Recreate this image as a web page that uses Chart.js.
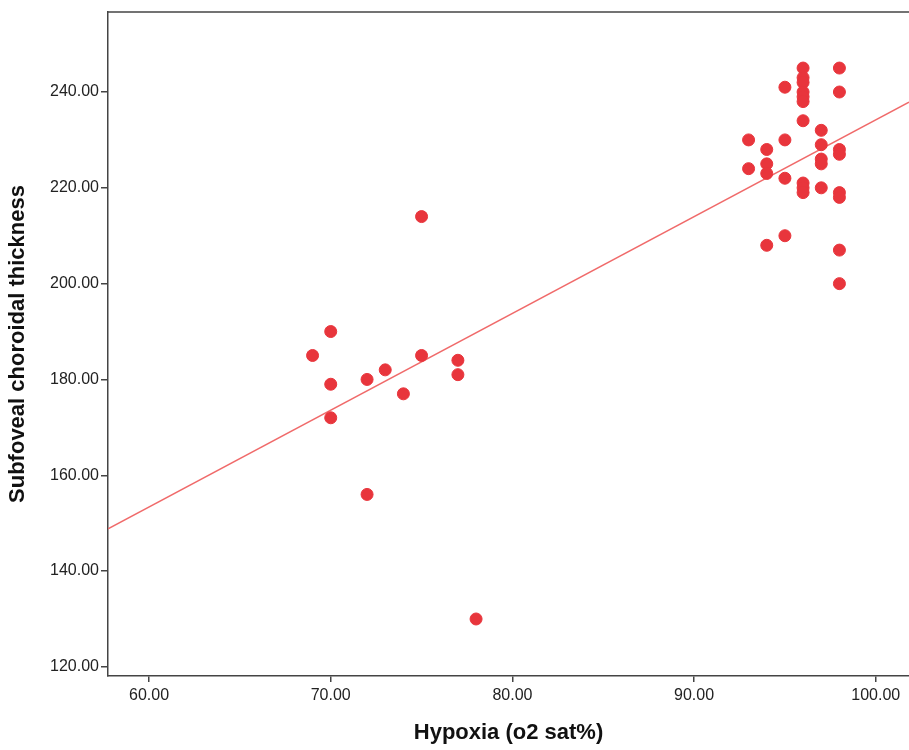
<!DOCTYPE html>
<html>
<head>
<meta charset="utf-8">
<script src="https://cdn.jsdelivr.net/npm/chart.js@4"></script>
<style>
  html, body { margin: 0; padding: 0; background: #fff; overflow: hidden; }
  #wrap { width: 909px; height: 750px; }
  canvas { display: block; }
</style>
</head>
<body>
<div id="wrap"><canvas id="scatter" width="909" height="750"></canvas></div>
<script>
// DATA

const hypoxia = [69, 70, 70, 70, 72, 72, 73, 74, 75, 75, 77, 77, 78,
    93, 93, 94, 94, 94, 94, 95, 95, 95, 95,
    96, 96, 96, 96, 96, 96, 96, 96, 96, 96,
    97, 97, 97, 97, 97,
    98, 98, 98, 98, 98, 98, 98, 98];

const thickness = [185, 190, 179, 172, 180, 156, 182, 177, 214, 185, 184, 181, 130,
    230, 224, 228, 225, 223, 208, 241, 230, 222, 210,
    245, 243, 242, 240, 239, 238, 234, 221, 220, 219,
    232, 229, 226, 225, 220,
    245, 240, 228, 227, 219, 218, 207, 200];

// fit line (ends of the visible line)
const fitX = [57.74, 101.83];
const fitY = [148.8, 237.9];

const xTicks = [60, 70, 80, 90, 100];
const yTicks = [120, 140, 160, 180, 200, 220, 240];

// top frame line
const frameTop = {
    id: 'frameTop',
    afterDraw(chart) {
        const a = chart.chartArea;
        const c = chart.ctx;
        c.save();
        c.strokeStyle = '#444';
        c.lineWidth = 1.5;
        c.beginPath();
        c.moveTo(a.left, a.top);
        c.lineTo(a.right, a.top);
        c.stroke();
        c.restore();
    }
};

const ctx = document.getElementById('scatter');

new Chart(ctx, {
    type: 'scatter',
    data: {
        datasets: [{
            label: 'points',
            data: hypoxia.map((x, i) => ({ x: x, y: thickness[i] })),
            backgroundColor: '#e8353c',
            borderColor: '#e8353c',
            pointRadius: 6,
            pointHoverRadius: 6,
            order: 1
        }, {
            type: 'line',
            label: 'fit',
            data: fitX.map((x, i) => ({ x: x, y: fitY[i] })),
            borderColor: '#f06a6a',
            borderWidth: 1.5,
            pointRadius: 0,
            fill: false,
            order: 2
        }]
    },
    options: {
        responsive: false,
        animation: false,
        layout: { autoPadding: false, padding: { top: 12, right: 0, left: 0, bottom: 0 } },
        plugins: {
            legend: { display: false },
            tooltip: { enabled: false }
        },
        scales: {
            x: {
                type: 'linear',
                min: 57.74,
                max: 101.83,
                afterBuildTicks: s => { s.ticks = xTicks.map(v => ({ value: v })); },
                afterFit: s => { s.height = 74; s.paddingLeft = 0; s.paddingRight = 0; },
                border: { display: true, color: '#444', width: 1.5 },
                grid: { display: true, drawOnChartArea: false, drawTicks: true, tickLength: 6, tickColor: '#444', lineWidth: 1.5 },
                ticks: {
                    color: '#222',
                    font: { family: 'Liberation Sans, Arial', size: 16 },
                    padding: 4,
                    callback: v => v.toFixed(2)
                },
                title: {
                    display: true,
                    text: 'Hypoxia (o2 sat%)',
                    color: '#111',
                    font: { family: 'Liberation Sans, Arial', size: 22, weight: 'bold' },
                    padding: { top: 10, bottom: 4 }
                }
            },
            y: {
                type: 'linear',
                min: 118.1,
                max: 256.7,
                afterBuildTicks: s => { s.ticks = yTicks.map(v => ({ value: v })); },
                afterFit: s => { s.width = 108; s.paddingTop = 0; s.paddingBottom = 0; },
                border: { display: true, color: '#444', width: 1.5 },
                grid: { display: true, drawOnChartArea: false, drawTicks: true, tickLength: 7, tickColor: '#444', lineWidth: 1.5 },
                ticks: {
                    color: '#222',
                    font: { family: 'Liberation Sans, Arial', size: 16 },
                    padding: 2,
                    callback: v => v.toFixed(2)
                },
                title: {
                    display: true,
                    text: 'Subfoveal choroidal thickness',
                    color: '#111',
                    font: { family: 'Liberation Sans, Arial', size: 22, weight: 'bold' },
                    padding: { top: 5, bottom: 8 }
                }
            }
        }
    },
    plugins: [frameTop]
});
</script>
</body>
</html>
